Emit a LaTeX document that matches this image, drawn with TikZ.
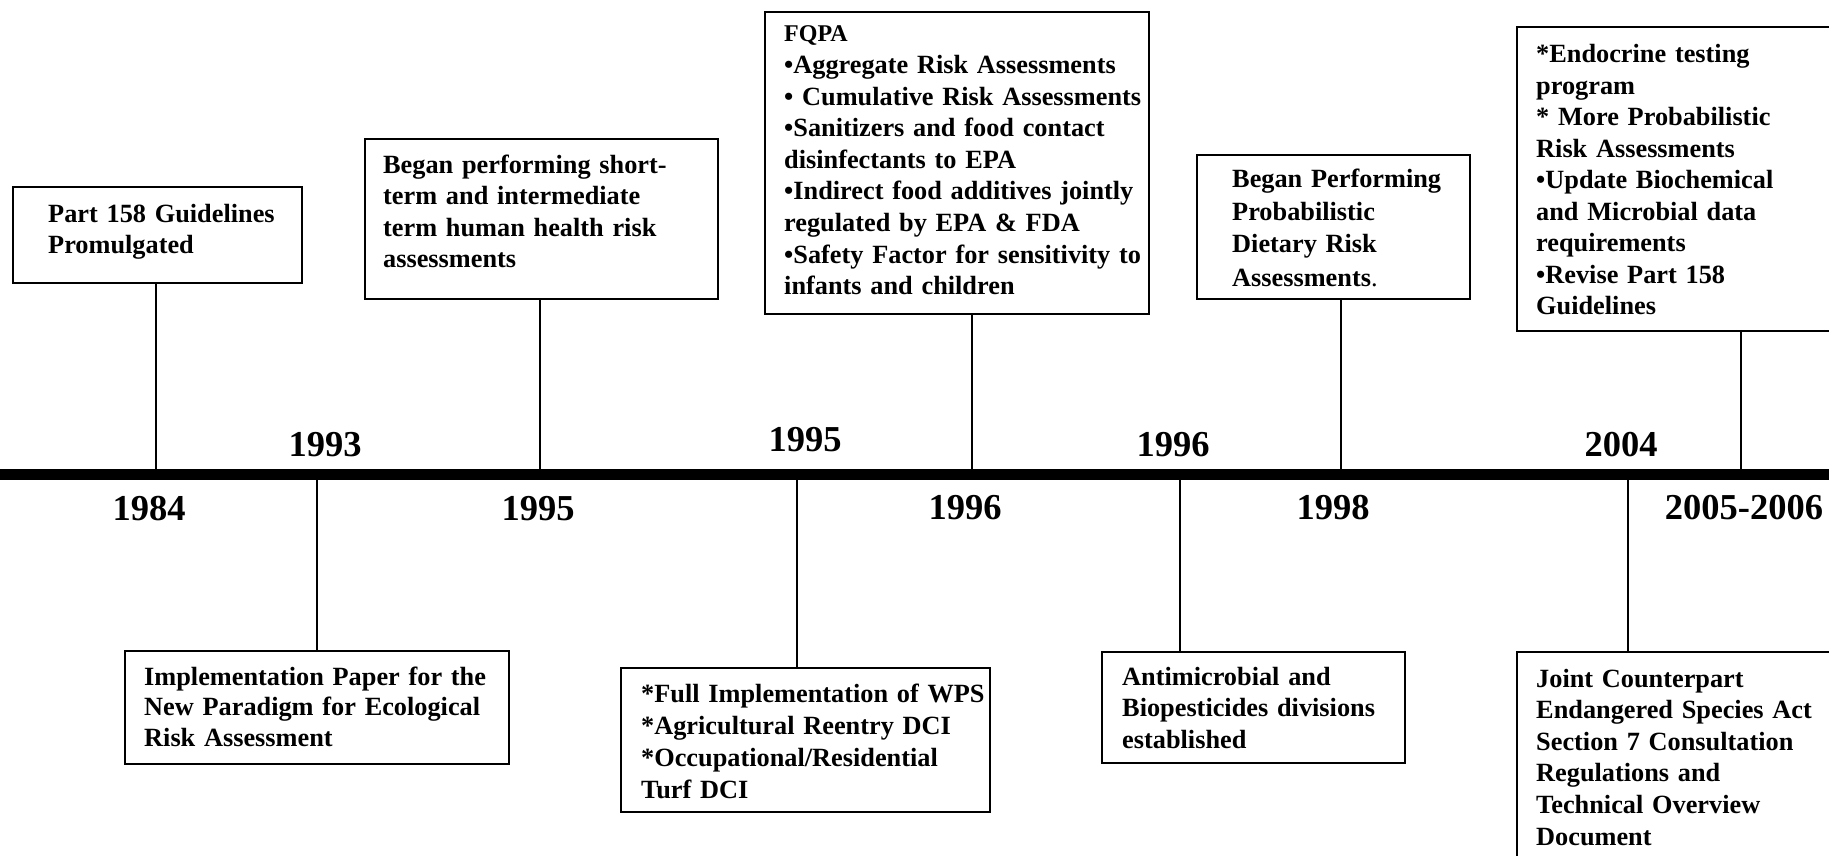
\documentclass[tikz,border=0pt]{standalone}
\usepackage{fontspec}
\setmainfont{Liberation Serif}
\begin{document}
\begin{tikzpicture}[x=1pt,y=-1pt,
  evbox/.style={draw, line width=1.8pt, rectangle, inner sep=0pt, anchor=north west},
  evtext/.style={anchor=base west, inner sep=0pt, align=left, text width=420pt,
    font=\bfseries\fontsize{26.3}{#1}\selectfont},
  evtext/.default=31.6,
  yr/.style={anchor=base, inner sep=0pt, font=\bfseries\fontsize{36.5}{40}\selectfont},
  conn/.style={line width=1.8pt},
  axis/.style={line width=11pt}]
\useasboundingbox (0,0) rectangle (1829,856);
\clip (0,0) rectangle (1829,856);
\fill[white] (0,0) rectangle (1829,856);

% timeline ticks
\coordinate (L) at (0,474.5);
\coordinate (R) at (1829,474.5);
\coordinate (t1) at (156,474.5);
\coordinate (t3) at (540,474.5);
\coordinate (t4) at (972,474.5);
\coordinate (t5) at (1341,474.5);
\coordinate (t6) at (1741,474.5);
\coordinate (t2) at (317,474.5);
\coordinate (t7) at (797,474.5);
\coordinate (t8) at (1180,474.5);
\coordinate (t9) at (1628,474.5);

% upper boxes
\node[evbox, minimum width=289pt, minimum height=96pt] (b1) at (12,186) {};
\node[evtext] (x1) at (48,222) {Part 158 Guidelines\\Promulgated};

\node[evbox, minimum width=353pt, minimum height=160pt] (b3) at (364,138) {};
\node[evtext] (x3) at (383,173) {Began performing short-\\term and intermediate\\term human health risk\\assessments};

\node[evbox, minimum width=384pt, minimum height=302pt] (b4) at (764,11) {};
\node[evtext] (x4) at (784,42) {{\fontsize{24}{31.6}\selectfont FQPA}\\•Aggregate Risk Assessments\\• Cumulative Risk Assessments\\•Sanitizers and food contact\\disinfectants to EPA\\•Indirect food additives jointly\\regulated by EPA \& FDA\\•Safety Factor for sensitivity to\\infants and children};

\node[evbox, minimum width=273pt, minimum height=144pt] (b5) at (1196,154) {};
\node[evtext=33] (x5) at (1232,187) {Began Performing\\Probabilistic\\Dietary Risk\\Assessments{\mdseries .}};

\node[evbox, minimum width=330pt, minimum height=304pt] (b6) at (1516,26) {};
\node[evtext=31.5] (x6) at (1536,63) {*Endocrine testing\\program\\{}* More Probabilistic\\Risk Assessments\\•Update Biochemical\\and Microbial data\\requirements\\•Revise Part 158\\Guidelines};

% lower boxes
\node[evbox, minimum width=384pt, minimum height=113pt] (b2) at (124,650) {};
\node[evtext=30.5] (x2) at (144,685) {Implementation Paper for the\\New Paradigm for Ecological\\Risk Assessment};

\node[evbox, minimum width=369pt, minimum height=144pt] (b7) at (620,667) {};
\node[evtext=32] (x7) at (641,702) {*Full Implementation of WPS\\{}*Agricultural Reentry DCI\\{}*Occupational/Residential\\Turf DCI};

\node[evbox, minimum width=303pt, minimum height=111pt] (b8) at (1101,651) {};
\node[evtext=31.5] (x8) at (1122,685) {Antimicrobial and\\Biopesticides divisions\\established};

\node[evbox, minimum width=330pt, minimum height=230pt] (b9) at (1516,651) {};
\node[evtext] (x9) at (1536,687) {Joint Counterpart\\Endangered Species Act\\Section 7 Consultation\\Regulations and\\Technical Overview\\Document};

% connectors
\draw[conn] (b1.south -| t1) -- (t1);
\draw[conn] (b3.south -| t3) -- (t3);
\draw[conn] (b4.south -| t4) -- (t4);
\draw[conn] (b5.south -| t5) -- (t5);
\draw[conn] (b6.south -| t6) -- (t6);
\draw[conn] (b2.north -| t2) -- (t2);
\draw[conn] (b7.north -| t7) -- (t7);
\draw[conn] (b8.north -| t8) -- (t8);
\draw[conn] (b9.north -| t9) -- (t9);

% timeline
\draw[axis] (L) -- (R);

% year labels
\node[yr] (y1993) at (325,456) {1993};
\node[yr] (y1995a) at (805,451) {1995};
\node[yr] (y1996a) at (1173,456) {1996};
\node[yr] (y2004) at (1621,456) {2004};
\node[yr] (y1984) at (149,520) {1984};
\node[yr] (y1995b) at (538,520) {1995};
\node[yr] (y1996b) at (965,519) {1996};
\node[yr] (y1998) at (1333,519) {1998};
\node[yr] (y2005) at (1744,519) {2005-2006};
\end{tikzpicture}
\end{document}
